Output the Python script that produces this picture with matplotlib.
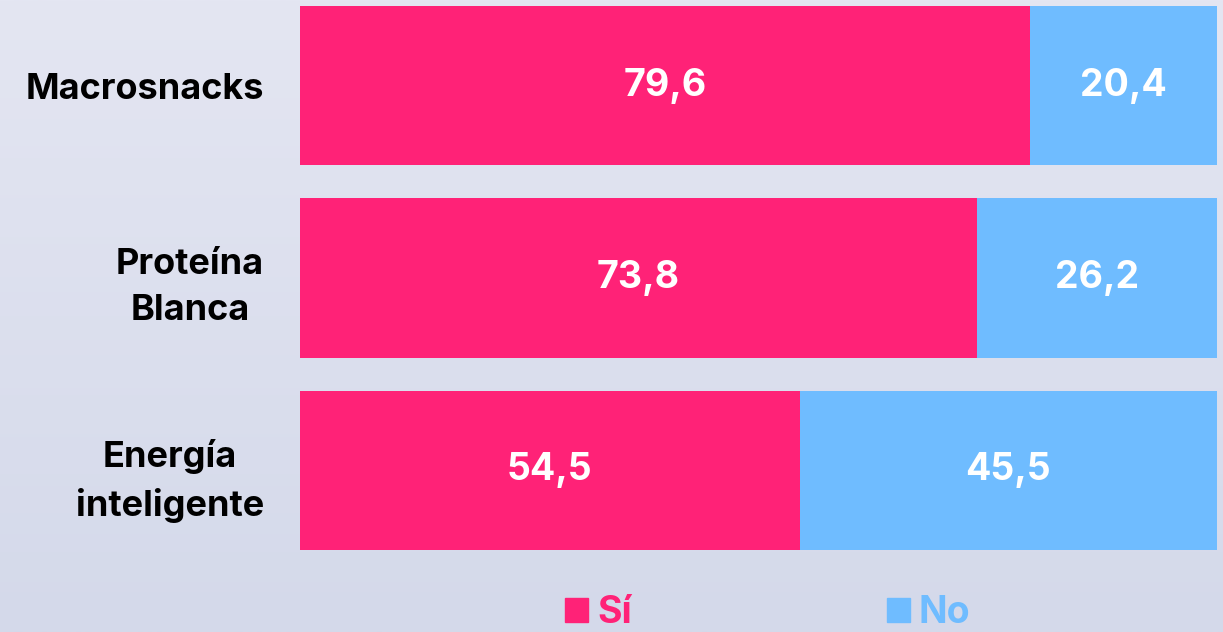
import matplotlib
matplotlib.use("Agg")
import matplotlib.pyplot as plt
import numpy as np
from matplotlib.patches import Patch
from matplotlib.colors import LinearSegmentedColormap

categories = ["Macrosnacks", "Proteína\nBlanca", "Energía\ninteligente"]
si_values = [79.6, 73.8, 54.5]
no_values = [20.4, 26.2, 45.5]
series_names = ["Sí", "No"]

PINK = "#FF2277"
BLUE = "#6FBCFF"
FONT = ["Inter", "DejaVu Sans"]

fig = plt.figure(figsize=(12.23, 6.32), dpi=100)

# background gradient
bg = fig.add_axes([0, 0, 1, 1], zorder=0)
grad = np.linspace(0, 1, 256).reshape(-1, 1)
cmap = LinearSegmentedColormap.from_list("bg", ["#E4E6F2", "#D4D9EA"])
bg.imshow(grad, aspect="auto", cmap=cmap, extent=[0, 1, 0, 1])
bg.set_axis_off()

ax = fig.add_axes([300/1223, 1 - 550/632, 917/1223, 544/632], zorder=1)
ax.patch.set_alpha(0)
y = np.arange(len(categories))
h = 0.826
ax.barh(y, si_values, height=h, color=PINK, label=series_names[0])
ax.barh(y, no_values, left=si_values, height=h, color=BLUE, label=series_names[1])

for i in range(len(categories)):
    ax.text(si_values[i] / 2, y[i], f"{si_values[i]:.1f}".replace(".", ","),
            ha="center", va="center", color="white", fontsize=27,
            fontweight="bold", family=FONT)
    ax.text(si_values[i] + no_values[i] / 2, y[i], f"{no_values[i]:.1f}".replace(".", ","),
            ha="center", va="center", color="white", fontsize=27,
            fontweight="bold", family=FONT)

ax.set_xlim(0, 100)
ax.set_ylim(len(categories) - 1 + h / 2, -h / 2)
ax.set_yticks(y)
ax.set_yticklabels(categories, fontsize=26, fontweight="bold", family=FONT,
                   multialignment="center", color="black", linespacing=1.5)
ax.tick_params(axis="y", length=0, pad=26)
ax.set_xticks([])
for s in ax.spines.values():
    s.set_visible(False)

handles = [Patch(color=PINK, label=series_names[0]), Patch(color=BLUE, label=series_names[1])]
leg = fig.legend(handles=handles, loc="lower center", bbox_to_anchor=(768/1223, 1/632),
                 ncol=2, frameon=False, handlelength=0.6, handleheight=0.6,
                 handletextpad=0.25, columnspacing=6.8,
                 prop={"family": FONT, "weight": "bold", "size": 27},
                 labelcolor=[PINK, BLUE], borderpad=0, borderaxespad=0)

fig.savefig("out.png", dpi=100)
